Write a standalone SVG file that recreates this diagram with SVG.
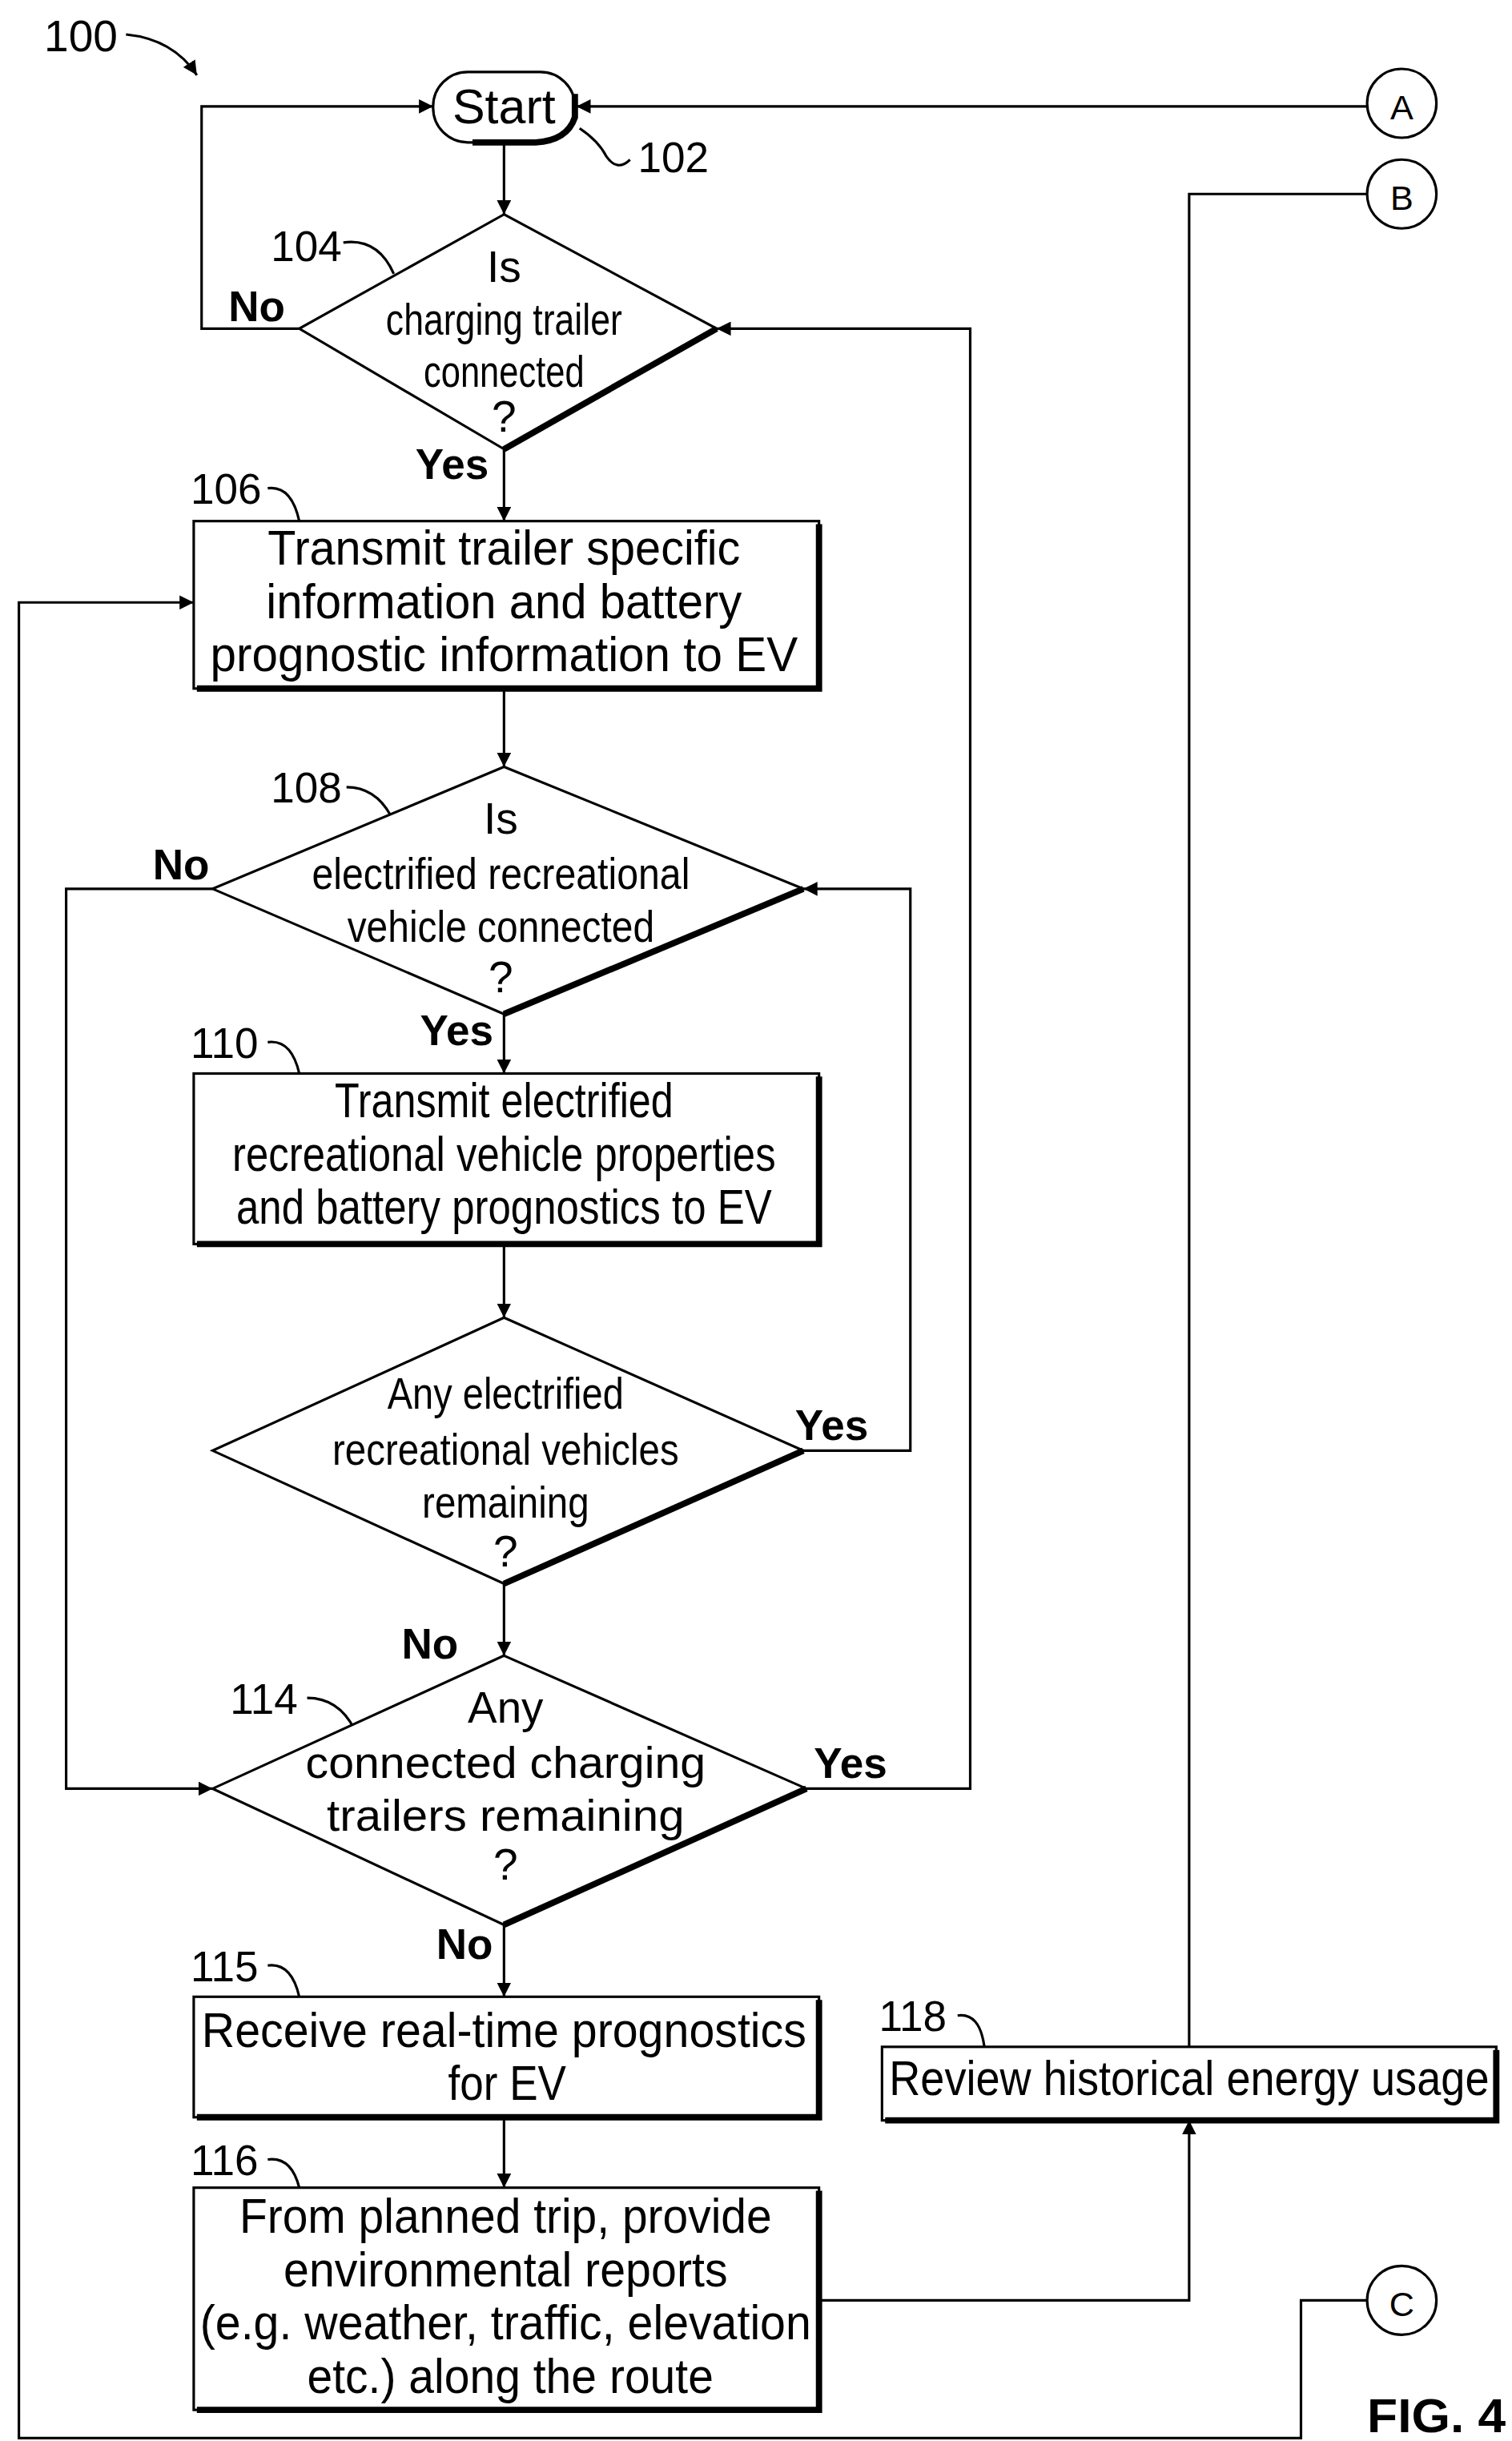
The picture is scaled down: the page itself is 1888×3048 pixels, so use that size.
<svg xmlns="http://www.w3.org/2000/svg" width="1888" height="3048" viewBox="0 0 1888 3048">
<style>
text{font-family:"Liberation Sans",Arial,sans-serif;fill:#000;text-anchor:middle}
.t{font-size:31px}
.d{font-size:28px}
.l{font-size:27px;text-anchor:start}
.b{font-size:27px;font-weight:bold}
.ln{fill:none;stroke:#000;stroke-width:1.6}
.sh{fill:none;stroke:#000;stroke-width:4}
.bx{fill:#fff;stroke:#000;stroke-width:1.6}
</style>
<defs>
<marker id="ar" viewBox="0 0 10 10" refX="10" refY="5" markerWidth="9" markerHeight="9" markerUnits="userSpaceOnUse" orient="auto"><path d="M0,0L10,5L0,10z" fill="#000"/></marker>
</defs>
<rect width="1888" height="3048" fill="#fff"/>
<g transform="scale(1.9667,1.954)">
<g id="connectors">
<path class="ln" d="M80,22 Q110,25 125,48" marker-end="url(#ar)"/>
<path class="ln" d="M190,210 H128 V68 H275" marker-end="url(#ar)"/>
<path class="ln" d="M868,68 H366" marker-end="url(#ar)"/>
<path class="ln" d="M320,91 V137" marker-end="url(#ar)"/>
<path class="ln" d="M320,287 V333" marker-end="url(#ar)"/>
<path class="ln" d="M320,440 V490" marker-end="url(#ar)"/>
<path class="ln" d="M135,568 H42 V1143 H135" marker-end="url(#ar)"/>
<path class="ln" d="M320,648 V686" marker-end="url(#ar)"/>
<path class="ln" d="M320,795 V842" marker-end="url(#ar)"/>
<path class="ln" d="M510,927 H578 V568 H510" marker-end="url(#ar)"/>
<path class="ln" d="M320,1012 V1058" marker-end="url(#ar)"/>
<path class="ln" d="M512,1143 H616 V210 H455" marker-end="url(#ar)"/>
<path class="ln" d="M320,1230 V1276" marker-end="url(#ar)"/>
<path class="ln" d="M320,1353 V1398" marker-end="url(#ar)"/>
<path class="ln" d="M520,1470 H755 V1355" marker-end="url(#ar)"/>
<path class="ln" d="M755,1308 V124 H868"/>
<path class="ln" d="M868,1470 H826 V1558 H12 V385 H123" marker-end="url(#ar)"/>
<path class="ln" d="M368,82 Q380,90 385,100 Q392,110 400,102"/>
<path class="ln" d="M218,155 Q240,152 250,175"/>
<path class="ln" d="M170,312 Q185,310 190,333"/>
<path class="ln" d="M220,503 Q240,503 250,525"/>
<path class="ln" d="M170,666 Q185,664 190,686"/>
<path class="ln" d="M195,1085 Q215,1085 225,1105"/>
<path class="ln" d="M170,1256 Q185,1254 190,1276"/>
<path class="ln" d="M170,1380 Q185,1378 190,1398"/>
<path class="ln" d="M608,1288 Q622,1286 625,1308"/>
</g>
<text class="l" x="28" y="33" style="font-size:28px">100</text>
<g id="start"><rect x="275" y="46" width="90" height="45" rx="22" class="bx"/><path class="sh" d="M365,60 V75 Q360,90 340,91 H300"/><text class="t" x="320" y="79">Start</text><text class="l" x="405" y="110">102</text></g>
<g id="c104"><path class="bx" d="M320,137 L455,210 L320,287 L190,210z"/><path class="sh" d="M455,210 L320,287"/>
<text class="d" x="320" y="180">Is</text><text class="d" x="320" y="214" textLength="150" lengthAdjust="spacingAndGlyphs">charging trailer</text><text class="d" x="320" y="247" textLength="102" lengthAdjust="spacingAndGlyphs">connected</text><text class="d" x="320" y="276">?</text>
<text class="l" x="172" y="167">104</text><text class="b" x="163" y="205">No</text><text class="b" x="287" y="306">Yes</text></g>
<g id="b106"><rect class="bx" x="123" y="333" width="397" height="107"/><path class="sh" d="M520,335 V440 H125"/>
<text class="t" x="320" y="361" textLength="300" lengthAdjust="spacingAndGlyphs">Transmit trailer specific</text><text class="t" x="320" y="395" textLength="302" lengthAdjust="spacingAndGlyphs">information and battery</text><text class="t" x="320" y="429" textLength="373" lengthAdjust="spacingAndGlyphs">prognostic information to EV</text><text class="l" x="121" y="322">106</text></g>
<g id="c108"><path class="bx" d="M320,490 L510,568 L320,648 L135,568z"/><path class="sh" d="M510,568 L320,648"/>
<text class="d" x="318" y="533">Is</text><text class="d" x="318" y="568" textLength="240" lengthAdjust="spacingAndGlyphs">electrified recreational</text><text class="d" x="318" y="602" textLength="195" lengthAdjust="spacingAndGlyphs">vehicle connected</text><text class="d" x="318" y="634">?</text>
<text class="l" x="172" y="513">108</text><text class="b" x="115" y="562">No</text><text class="b" x="290" y="668">Yes</text></g>
<g id="b110"><rect class="bx" x="123" y="686" width="397" height="109"/><path class="sh" d="M520,688 V795 H125"/>
<text class="t" x="320" y="714" textLength="215" lengthAdjust="spacingAndGlyphs">Transmit electrified</text><text class="t" x="320" y="748" textLength="345" lengthAdjust="spacingAndGlyphs">recreational vehicle properties</text><text class="t" x="320" y="782" textLength="340" lengthAdjust="spacingAndGlyphs">and battery prognostics to EV</text><text class="l" x="121" y="676">110</text></g>
<g id="c112"><path class="bx" d="M320,842 L510,927 L320,1012 L135,927z"/><path class="sh" d="M510,927 L320,1012"/>
<text class="d" x="321" y="900" textLength="150" lengthAdjust="spacingAndGlyphs">Any electrified</text><text class="d" x="321" y="936" textLength="220" lengthAdjust="spacingAndGlyphs">recreational vehicles</text><text class="d" x="321" y="970" textLength="106" lengthAdjust="spacingAndGlyphs">remaining</text><text class="d" x="321" y="1001">?</text>
<text class="b" x="528" y="920">Yes</text><text class="b" x="273" y="1060">No</text></g>
<g id="c114"><path class="bx" d="M320,1058 L512,1143 L320,1230 L135,1143z"/><path class="sh" d="M512,1143 L320,1230"/>
<text class="d" x="321" y="1101" textLength="48" lengthAdjust="spacingAndGlyphs">Any</text><text class="d" x="321" y="1136" textLength="254" lengthAdjust="spacingAndGlyphs">connected charging</text><text class="d" x="321" y="1170" textLength="227" lengthAdjust="spacingAndGlyphs">trailers remaining</text><text class="d" x="321" y="1201">?</text>
<text class="l" x="146" y="1095">114</text><text class="b" x="540" y="1136">Yes</text><text class="b" x="295" y="1252">No</text></g>
<g id="b115"><rect class="bx" x="123" y="1276" width="397" height="77"/><path class="sh" d="M520,1278 V1353 H125"/>
<text class="t" x="320" y="1308" textLength="384" lengthAdjust="spacingAndGlyphs">Receive real-time prognostics</text><text class="t" x="322" y="1342" textLength="75" lengthAdjust="spacingAndGlyphs">for EV</text><text class="l" x="121" y="1266">115</text></g>
<g id="b116"><rect class="bx" x="123" y="1398" width="397" height="142"/><path class="sh" d="M520,1400 V1540 H125"/>
<text class="t" x="321" y="1427" textLength="338" lengthAdjust="spacingAndGlyphs">From planned trip, provide</text><text class="t" x="321" y="1461" textLength="282" lengthAdjust="spacingAndGlyphs">environmental reports</text><text class="t" x="321" y="1495" textLength="388" lengthAdjust="spacingAndGlyphs">(e.g. weather, traffic, elevation</text><text class="t" x="324" y="1529" textLength="258" lengthAdjust="spacingAndGlyphs">etc.) along the route</text><text class="l" x="121" y="1390">116</text></g>
<g id="b118"><rect class="bx" x="560" y="1308" width="390" height="47"/><path class="sh" d="M950,1310 V1355 H562"/>
<text class="t" x="755" y="1339" textLength="381" lengthAdjust="spacingAndGlyphs">Review historical energy usage</text><text class="l" x="558" y="1298">118</text></g>
<g id="A"><circle class="bx" cx="890" cy="66" r="22"/><text class="d" x="890" y="76" style="font-size:22px">A</text></g>
<g id="B"><circle class="bx" cx="890" cy="124" r="22"/><text class="d" x="890" y="134" style="font-size:22px">B</text></g>
<g id="C"><circle class="bx" cx="890" cy="1470" r="22"/><text class="d" x="890" y="1480" style="font-size:22px">C</text></g>
<text class="b" x="956" y="1554" style="font-size:30px;text-anchor:end" textLength="88" lengthAdjust="spacingAndGlyphs">FIG. 4</text>
</g>
</svg>
